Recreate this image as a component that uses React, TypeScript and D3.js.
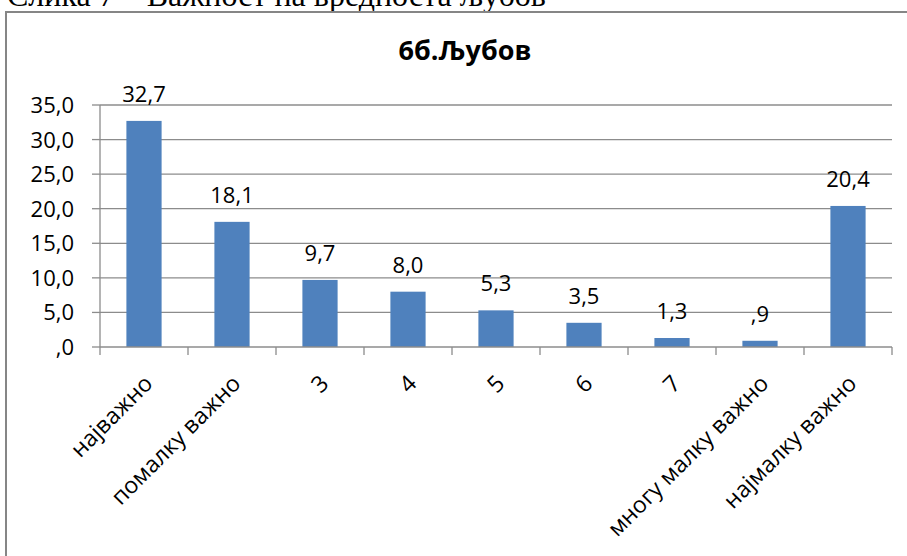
import React, { useEffect, useRef } from "react";
import * as d3 from "d3";

const categories = ["најважно", "помалку важно", "3", "4", "5", "6", "7", "многу малку важно", "најмалку важно"];
const values = [32.7, 18.1, 9.7, 8.0, 5.3, 3.5, 1.3, 0.9, 20.4];
const yTicks = [0, 5, 10, 15, 20, 25, 30, 35];
const title = "6б.Љубов";
const caption = "Слика 7 – Важност на вредноста љубов";

const W = 907;
const H = 556;
const margin = { left: 100, right: 15, top: 105, bottom: 209 };
const font = "'Open Sans', 'DejaVu Sans', sans-serif";

// SPSS style: 0.9 -> ",9", 0 -> ",0"
const fmt = (v: number) => v.toFixed(1).replace(".", ",").replace(/^0,/, ",");

export default function App() {
    const ref = useRef<SVGSVGElement>(null);

    useEffect(() => {
        const svg = d3.select(ref.current);
        svg.selectAll("*").remove();

        const x = d3.scaleBand<string>()
            .domain(categories)
            .range([margin.left, W - margin.right])
            .paddingInner(0.6)
            .paddingOuter(0.3);
        const y = d3.scaleLinear()
            .domain([0, 35])
            .range([H - margin.bottom, margin.top]);

        // caption from the page above, mostly cut off in the reference
        svg.append("text")
            .attr("x", 7)
            .attr("y", 6)
            .attr("font-family", "'Liberation Serif', 'Times New Roman', serif")
            .attr("font-size", "32px")
            .attr("fill", "#000")
            .text(caption);

        // chart frame
        svg.append("rect")
            .attr("x", 6)
            .attr("y", 12)
            .attr("width", W + 10)
            .attr("height", H + 10)
            .attr("fill", "#fff")
            .attr("stroke", "#868686")
            .attr("stroke-width", 2);

        svg.append("text")
            .attr("x", 465)
            .attr("y", 60)
            .attr("text-anchor", "middle")
            .attr("font-family", font)
            .attr("font-weight", "bold")
            .attr("font-size", "27px")
            .text(title);

        const x0 = margin.left;
        const x1 = W - margin.right;

        // gridlines
        svg.append("g")
            .selectAll("line")
            .data(yTicks.filter(d => d > 0))
            .enter()
            .append("line")
            .attr("x1", x0)
            .attr("x2", x1)
            .attr("y1", d => y(d))
            .attr("y2", d => y(d))
            .attr("stroke", "#8c8c8c")
            .attr("stroke-width", 1.3);

        // y axis
        svg.append("line")
            .attr("x1", x0).attr("x2", x0)
            .attr("y1", y(0)).attr("y2", y(35))
            .attr("stroke", "#8c8c8c").attr("stroke-width", 1.3);
        svg.append("g")
            .selectAll("line")
            .data(yTicks)
            .enter()
            .append("line")
            .attr("x1", x0 - 8).attr("x2", x0)
            .attr("y1", d => y(d)).attr("y2", d => y(d))
            .attr("stroke", "#8c8c8c").attr("stroke-width", 1.3);
        svg.append("g")
            .selectAll("text")
            .data(yTicks)
            .enter()
            .append("text")
            .attr("x", 74)
            .attr("y", d => y(d) + 8)
            .attr("text-anchor", "end")
            .attr("font-family", font)
            .attr("font-size", "22px")
            .text(d => fmt(d));

        // bars
        svg.append("g")
            .selectAll("rect")
            .data(values)
            .enter()
            .append("rect")
            .attr("x", (d, i) => x(categories[i]) as number)
            .attr("y", d => y(d))
            .attr("width", x.bandwidth())
            .attr("height", d => y(0) - y(d))
            .attr("fill", "#4f81bd");

        // x axis
        svg.append("line")
            .attr("x1", x0).attr("x2", x1)
            .attr("y1", y(0)).attr("y2", y(0))
            .attr("stroke", "#8c8c8c").attr("stroke-width", 1.3);
        const step = x.step();
        svg.append("g")
            .selectAll("line")
            .data(d3.range(categories.length + 1))
            .enter()
            .append("line")
            .attr("x1", i => x0 + i * step).attr("x2", i => x0 + i * step)
            .attr("y1", y(0)).attr("y2", y(0) + 8)
            .attr("stroke", "#8c8c8c").attr("stroke-width", 1.3);

        // data labels
        svg.append("g")
            .selectAll("text")
            .data(values)
            .enter()
            .append("text")
            .attr("x", (d, i) => (x(categories[i]) as number) + x.bandwidth() / 2)
            .attr("y", d => y(d) - 19)
            .attr("text-anchor", "middle")
            .attr("font-family", font)
            .attr("font-size", "22px")
            .text(d => fmt(d));

        // category labels
        svg.append("g")
            .selectAll("text")
            .data(categories)
            .enter()
            .append("text")
            .attr("transform", d => {
                const cx = (x(d) as number) + x.bandwidth() / 2 + 10;
                return `translate(${cx},${y(0) + 38}) rotate(-45)`;
            })
            .attr("text-anchor", "end")
            .attr("font-family", font)
            .attr("font-size", "23px")
            .text(d => d);
    }, []);

    return <svg ref={ref} width={W} height={H}
        style={{ position: "absolute", left: 0, top: 0, background: "#fff" }} />;
}
